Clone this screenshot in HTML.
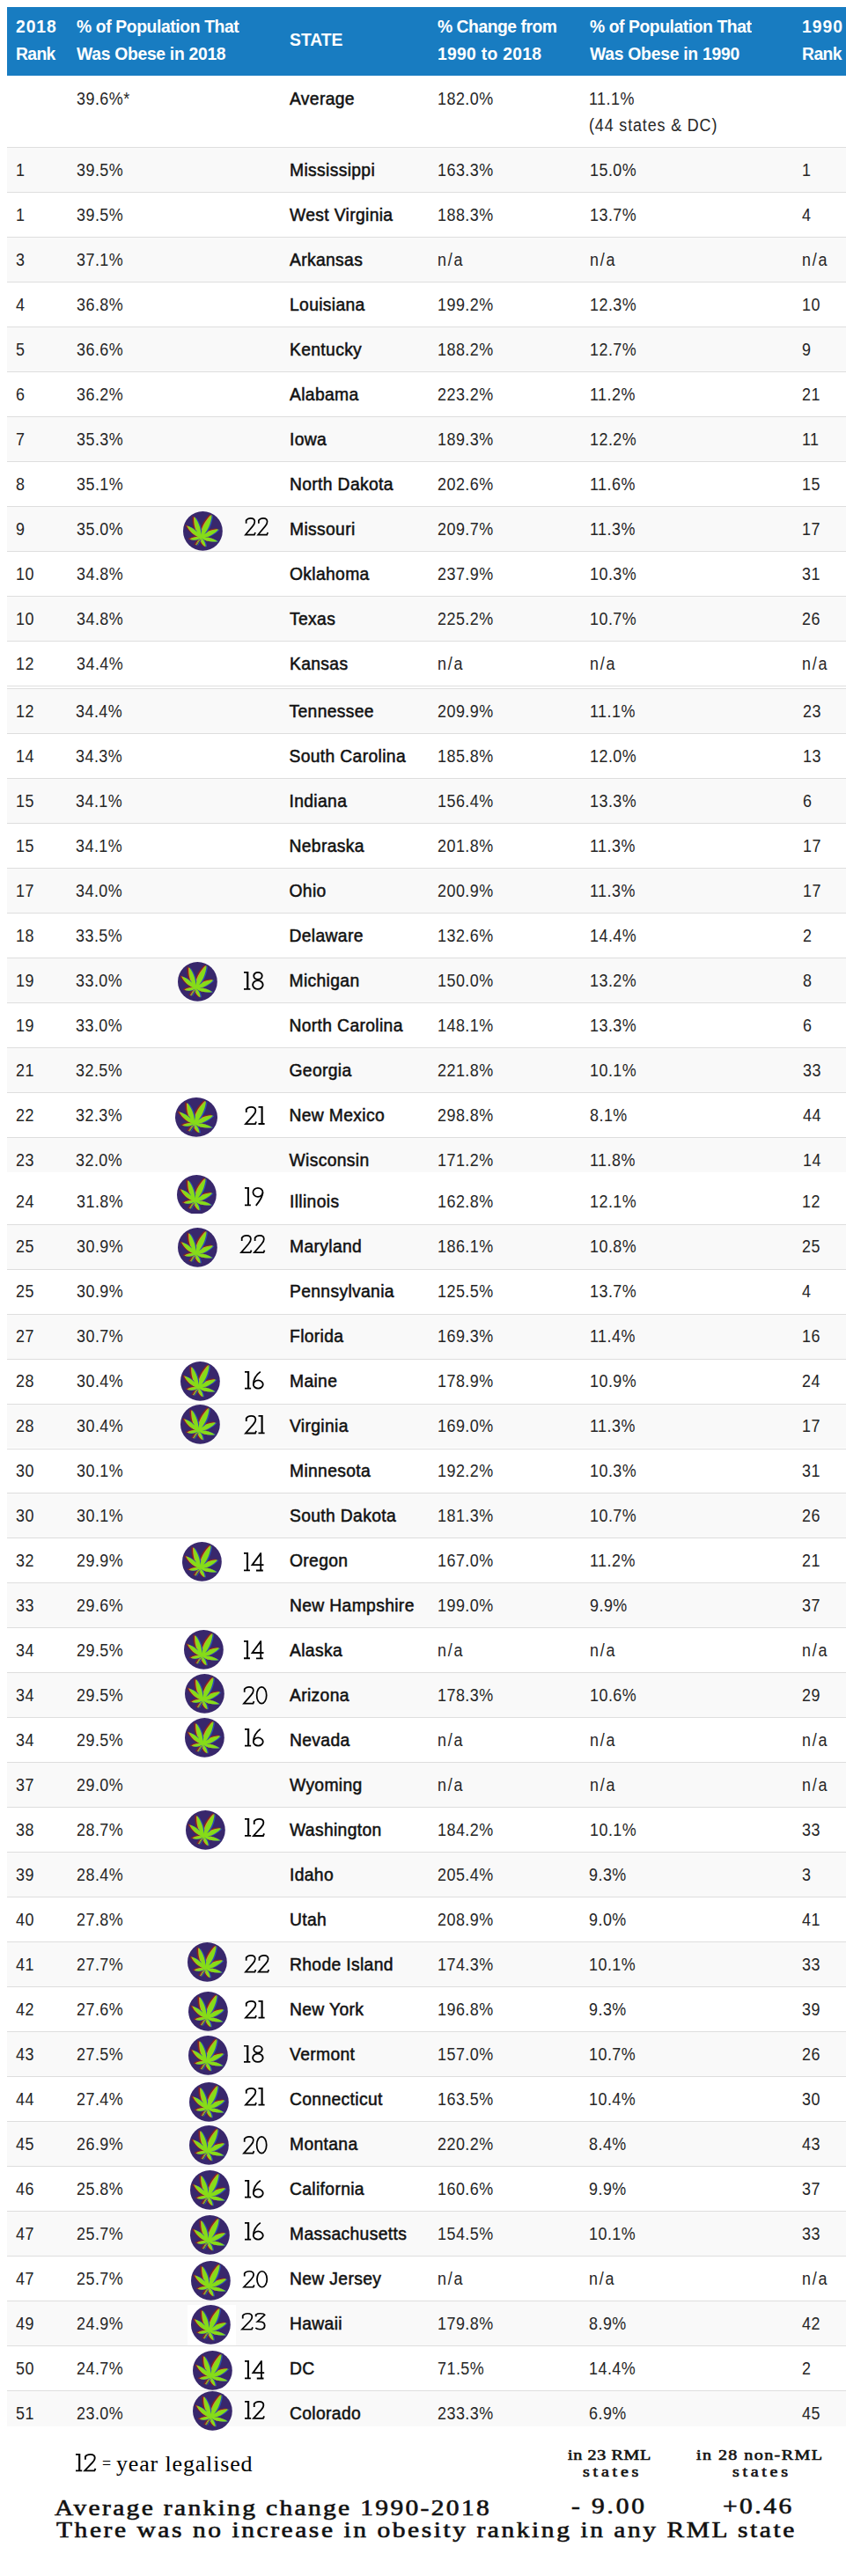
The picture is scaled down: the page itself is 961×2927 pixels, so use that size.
<!DOCTYPE html>
<html><head><meta charset="utf-8">
<style>
html,body{margin:0;padding:0;background:#fff;}
body{width:961px;height:2927px;position:relative;overflow:hidden;font-family:"Liberation Sans",sans-serif;}
.hd{position:absolute;left:8px;top:8px;width:953px;height:77.5px;background:#187cc1;}
.ht{position:absolute;color:#fff;font-weight:bold;font-size:21px;line-height:30.5px;white-space:nowrap;}
.r{position:absolute;left:8px;width:953px;box-sizing:border-box;}
.g{background:#f9f9f9;}
.w{background:#fff;}
.b{border-top:1px solid #dedede;}
.c{position:absolute;top:0;white-space:nowrap;font-size:19.3px;letter-spacing:0.5px;color:#262626;transform:scaleX(0.93);transform-origin:0 0;}
.s{color:#111;-webkit-text-stroke:0.5px #111;letter-spacing:0.35px;transform:none;}
.ic{position:absolute;width:45px;height:45px;}
.yr{position:absolute;font-family:"Liberation Serif",serif;font-size:31px;line-height:31px;transform-origin:0 0;color:#000;white-space:nowrap;}
.lg{position:absolute;font-family:"Liberation Serif",serif;color:#000;white-space:nowrap;}
.tw{position:absolute;font-family:"Liberation Serif",serif;font-weight:normal;-webkit-text-stroke:0.6px #111;color:#111;white-space:nowrap;transform-origin:0 0;}
</style></head><body>
<svg width="0" height="0" style="position:absolute">
<defs>
<path id="lf" d="M22.5 33.5C30.9 26.8 35.7 14.8 36.5 4.5C28.9 11.6 22.5 22.8 22.5 33.5ZM22.5 33.5C24.0 24.4 20.0 14.0 14.6 6.9C13.9 15.8 16.3 26.7 22.5 33.5ZM22.5 33.5C19.8 26.3 12.4 20.8 5.4 18.4C8.6 25.1 15.0 31.7 22.5 33.5ZM22.5 33.5C31.0 34.0 39.7 29.0 45.0 22.8C36.8 23.0 27.5 26.6 22.5 33.5ZM22.5 33.5C28.2 38.1 36.9 39.3 43.9 38.1C38.0 34.1 29.6 31.6 22.5 33.5ZM22.5 33.5C18.1 31.7 12.9 33.0 9.2 35.7C13.5 37.0 18.9 36.7 22.5 33.5ZM22.5 33.5C22.1 38.2 25.1 42.6 28.7 45.1C28.6 40.7 26.6 35.8 22.5 33.5ZM22.0 33.5L16.6 42.8L17.4 43.1L23.0 33.9Z"/>
<g id="ic">
<circle cx="25" cy="25" r="25" fill="#38276c"/>
<use href="#lf" fill="#862420" stroke="#862420" stroke-width="0.8" transform="translate(-2.4,-0.7)"/>
<use href="#lf" fill="#d0a030" transform="translate(-1.0,-0.3)"/>
<use href="#lf" fill="#2c4cb0" transform="translate(1.6,0.4)"/>
<use href="#lf" fill="#86dc18"/>
</g>
</defs>
</svg>

<div class="hd"></div>
<div class="ht" style="left:17.5px;top:15px;transform:scaleX(0.92);transform-origin:0 0"><span style="letter-spacing:1.0px">2018</span><br><span style="letter-spacing:-0.7px">Rank</span></div>
<div class="ht" style="left:87.0px;top:15px;transform:scaleX(0.92);transform-origin:0 0"><span style="letter-spacing:-0.42px">% of Population That</span><br><span style="letter-spacing:-0.32px">Was Obese in 2018</span></div>
<div class="ht" style="left:328.5px;top:30px;transform:scaleX(0.92);transform-origin:0 0"><span style="letter-spacing:0.0px">STATE</span></div>
<div class="ht" style="left:496.5px;top:15px;transform:scaleX(0.92);transform-origin:0 0"><span style="letter-spacing:-0.52px">% Change from</span><br><span style="letter-spacing:0.3px">1990 to 2018</span></div>
<div class="ht" style="left:669.5px;top:15px;transform:scaleX(0.92);transform-origin:0 0"><span style="letter-spacing:-0.47px">% of Population That</span><br><span style="letter-spacing:-0.28px">Was Obese in 1990</span></div>
<div class="ht" style="left:910.5px;top:15px;transform:scaleX(0.92);transform-origin:0 0"><span style="letter-spacing:1.09px">1990</span><br><span style="letter-spacing:-0.6px">Rank</span></div>
<div class="r w" style="top:85.5px;height:82px"></div>
<div class="c" style="left:87.0px;top:98px;line-height:30px">39.6%*</div>
<div class="c s" style="left:329.0px;top:98px;line-height:30px">Average</div>
<div class="c" style="left:497.0px;top:98px;line-height:30px">182.0%</div>
<div class="c" style="left:669.0px;top:98px;line-height:29.5px">11.1%<br><span style="letter-spacing:0.92px">(44 states &amp; DC)</span></div>
<div class="r g b" style="top:167.45px;height:50.93px">
<div class="c" style="left:10.0px;top:0.90px;line-height:50.95px">1</div>
<div class="c" style="left:79.0px;top:0.90px;line-height:50.95px">39.5%</div>
<div class="c s" style="left:321.0px;top:0.90px;line-height:50.95px">Mississippi</div>
<div class="c" style="left:489.0px;top:0.90px;line-height:50.95px">163.3%</div>
<div class="c" style="left:661.5px;top:0.90px;line-height:50.95px">15.0%</div>
<div class="c" style="left:902.5px;top:0.90px;line-height:50.95px">1</div>
</div>
<div class="r w b" style="top:218.38px;height:50.93px">
<div class="c" style="left:10.0px;top:0.90px;line-height:50.95px">1</div>
<div class="c" style="left:79.0px;top:0.90px;line-height:50.95px">39.5%</div>
<div class="c s" style="left:321.0px;top:0.90px;line-height:50.95px">West Virginia</div>
<div class="c" style="left:489.0px;top:0.90px;line-height:50.95px">188.3%</div>
<div class="c" style="left:661.5px;top:0.90px;line-height:50.95px">13.7%</div>
<div class="c" style="left:902.5px;top:0.90px;line-height:50.95px">4</div>
</div>
<div class="r g b" style="top:269.31px;height:50.93px">
<div class="c" style="left:10.0px;top:0.90px;line-height:50.95px">3</div>
<div class="c" style="left:79.0px;top:0.90px;line-height:50.95px">37.1%</div>
<div class="c s" style="left:321.0px;top:0.90px;line-height:50.95px">Arkansas</div>
<div class="c" style="left:489.0px;top:0.90px;line-height:50.95px"><span style="letter-spacing:1.9px">n/a</span></div>
<div class="c" style="left:661.5px;top:0.90px;line-height:50.95px"><span style="letter-spacing:1.9px">n/a</span></div>
<div class="c" style="left:902.5px;top:0.90px;line-height:50.95px"><span style="letter-spacing:1.9px">n/a</span></div>
</div>
<div class="r w b" style="top:320.24px;height:50.93px">
<div class="c" style="left:10.0px;top:0.90px;line-height:50.95px">4</div>
<div class="c" style="left:79.0px;top:0.90px;line-height:50.95px">36.8%</div>
<div class="c s" style="left:321.0px;top:0.90px;line-height:50.95px">Louisiana</div>
<div class="c" style="left:489.0px;top:0.90px;line-height:50.95px">199.2%</div>
<div class="c" style="left:661.5px;top:0.90px;line-height:50.95px">12.3%</div>
<div class="c" style="left:902.5px;top:0.90px;line-height:50.95px">10</div>
</div>
<div class="r g b" style="top:371.17px;height:50.93px">
<div class="c" style="left:10.0px;top:0.90px;line-height:50.95px">5</div>
<div class="c" style="left:79.0px;top:0.90px;line-height:50.95px">36.6%</div>
<div class="c s" style="left:321.0px;top:0.90px;line-height:50.95px">Kentucky</div>
<div class="c" style="left:489.0px;top:0.90px;line-height:50.95px">188.2%</div>
<div class="c" style="left:661.5px;top:0.90px;line-height:50.95px">12.7%</div>
<div class="c" style="left:902.5px;top:0.90px;line-height:50.95px">9</div>
</div>
<div class="r w b" style="top:422.10px;height:50.93px">
<div class="c" style="left:10.0px;top:0.90px;line-height:50.95px">6</div>
<div class="c" style="left:79.0px;top:0.90px;line-height:50.95px">36.2%</div>
<div class="c s" style="left:321.0px;top:0.90px;line-height:50.95px">Alabama</div>
<div class="c" style="left:489.0px;top:0.90px;line-height:50.95px">223.2%</div>
<div class="c" style="left:661.5px;top:0.90px;line-height:50.95px">11.2%</div>
<div class="c" style="left:902.5px;top:0.90px;line-height:50.95px">21</div>
</div>
<div class="r g b" style="top:473.03px;height:50.93px">
<div class="c" style="left:10.0px;top:0.90px;line-height:50.95px">7</div>
<div class="c" style="left:79.0px;top:0.90px;line-height:50.95px">35.3%</div>
<div class="c s" style="left:321.0px;top:0.90px;line-height:50.95px">Iowa</div>
<div class="c" style="left:489.0px;top:0.90px;line-height:50.95px">189.3%</div>
<div class="c" style="left:661.5px;top:0.90px;line-height:50.95px">12.2%</div>
<div class="c" style="left:902.5px;top:0.90px;line-height:50.95px">11</div>
</div>
<div class="r w b" style="top:523.96px;height:50.93px">
<div class="c" style="left:10.0px;top:0.90px;line-height:50.95px">8</div>
<div class="c" style="left:79.0px;top:0.90px;line-height:50.95px">35.1%</div>
<div class="c s" style="left:321.0px;top:0.90px;line-height:50.95px">North Dakota</div>
<div class="c" style="left:489.0px;top:0.90px;line-height:50.95px">202.6%</div>
<div class="c" style="left:661.5px;top:0.90px;line-height:50.95px">11.6%</div>
<div class="c" style="left:902.5px;top:0.90px;line-height:50.95px">15</div>
</div>
<div class="r g b" style="top:574.89px;height:50.93px">
<div class="c" style="left:10.0px;top:0.90px;line-height:50.95px">9</div>
<div class="c" style="left:79.0px;top:0.90px;line-height:50.95px">35.0%</div>
<div class="c s" style="left:321.0px;top:0.90px;line-height:50.95px">Missouri</div>
<div class="c" style="left:489.0px;top:0.90px;line-height:50.95px">209.7%</div>
<div class="c" style="left:661.5px;top:0.90px;line-height:50.95px">11.3%</div>
<div class="c" style="left:902.5px;top:0.90px;line-height:50.95px">17</div>
</div>
<div class="r w b" style="top:625.82px;height:50.93px">
<div class="c" style="left:10.0px;top:0.90px;line-height:50.95px">10</div>
<div class="c" style="left:79.0px;top:0.90px;line-height:50.95px">34.8%</div>
<div class="c s" style="left:321.0px;top:0.90px;line-height:50.95px">Oklahoma</div>
<div class="c" style="left:489.0px;top:0.90px;line-height:50.95px">237.9%</div>
<div class="c" style="left:661.5px;top:0.90px;line-height:50.95px">10.3%</div>
<div class="c" style="left:902.5px;top:0.90px;line-height:50.95px">31</div>
</div>
<div class="r g b" style="top:676.75px;height:50.93px">
<div class="c" style="left:10.0px;top:0.90px;line-height:50.95px">10</div>
<div class="c" style="left:79.0px;top:0.90px;line-height:50.95px">34.8%</div>
<div class="c s" style="left:321.0px;top:0.90px;line-height:50.95px">Texas</div>
<div class="c" style="left:489.0px;top:0.90px;line-height:50.95px">225.2%</div>
<div class="c" style="left:661.5px;top:0.90px;line-height:50.95px">10.7%</div>
<div class="c" style="left:902.5px;top:0.90px;line-height:50.95px">26</div>
</div>
<div class="r w b" style="top:727.68px;height:50.93px">
<div class="c" style="left:10.0px;top:0.90px;line-height:50.95px">12</div>
<div class="c" style="left:79.0px;top:0.90px;line-height:50.95px">34.4%</div>
<div class="c s" style="left:321.0px;top:0.90px;line-height:50.95px">Kansas</div>
<div class="c" style="left:489.0px;top:0.90px;line-height:50.95px"><span style="letter-spacing:1.9px">n/a</span></div>
<div class="c" style="left:661.5px;top:0.90px;line-height:50.95px"><span style="letter-spacing:1.9px">n/a</span></div>
<div class="c" style="left:902.5px;top:0.90px;line-height:50.95px"><span style="letter-spacing:1.9px">n/a</span></div>
</div>
<div class="r g b" style="top:782.40px;height:51.00px">
<div class="c" style="left:9.5px;top:0.90px;line-height:50.95px">12</div>
<div class="c" style="left:78.0px;top:0.90px;line-height:50.95px">34.4%</div>
<div class="c s" style="left:320.5px;top:0.90px;line-height:50.95px">Tennessee</div>
<div class="c" style="left:489.0px;top:0.90px;line-height:50.95px">209.9%</div>
<div class="c" style="left:661.8px;top:0.90px;line-height:50.95px">11.1%</div>
<div class="c" style="left:903.5px;top:0.90px;line-height:50.95px">23</div>
</div>
<div class="r w b" style="top:833.40px;height:51.00px">
<div class="c" style="left:9.5px;top:0.90px;line-height:50.95px">14</div>
<div class="c" style="left:78.0px;top:0.90px;line-height:50.95px">34.3%</div>
<div class="c s" style="left:320.5px;top:0.90px;line-height:50.95px">South Carolina</div>
<div class="c" style="left:489.0px;top:0.90px;line-height:50.95px">185.8%</div>
<div class="c" style="left:661.8px;top:0.90px;line-height:50.95px">12.0%</div>
<div class="c" style="left:903.5px;top:0.90px;line-height:50.95px">13</div>
</div>
<div class="r g b" style="top:884.40px;height:51.00px">
<div class="c" style="left:9.5px;top:0.90px;line-height:50.95px">15</div>
<div class="c" style="left:78.0px;top:0.90px;line-height:50.95px">34.1%</div>
<div class="c s" style="left:320.5px;top:0.90px;line-height:50.95px">Indiana</div>
<div class="c" style="left:489.0px;top:0.90px;line-height:50.95px">156.4%</div>
<div class="c" style="left:661.8px;top:0.90px;line-height:50.95px">13.3%</div>
<div class="c" style="left:903.5px;top:0.90px;line-height:50.95px">6</div>
</div>
<div class="r w b" style="top:935.40px;height:51.00px">
<div class="c" style="left:9.5px;top:0.90px;line-height:50.95px">15</div>
<div class="c" style="left:78.0px;top:0.90px;line-height:50.95px">34.1%</div>
<div class="c s" style="left:320.5px;top:0.90px;line-height:50.95px">Nebraska</div>
<div class="c" style="left:489.0px;top:0.90px;line-height:50.95px">201.8%</div>
<div class="c" style="left:661.8px;top:0.90px;line-height:50.95px">11.3%</div>
<div class="c" style="left:903.5px;top:0.90px;line-height:50.95px">17</div>
</div>
<div class="r g b" style="top:986.40px;height:51.00px">
<div class="c" style="left:9.5px;top:0.90px;line-height:50.95px">17</div>
<div class="c" style="left:78.0px;top:0.90px;line-height:50.95px">34.0%</div>
<div class="c s" style="left:320.5px;top:0.90px;line-height:50.95px">Ohio</div>
<div class="c" style="left:489.0px;top:0.90px;line-height:50.95px">200.9%</div>
<div class="c" style="left:661.8px;top:0.90px;line-height:50.95px">11.3%</div>
<div class="c" style="left:903.5px;top:0.90px;line-height:50.95px">17</div>
</div>
<div class="r w b" style="top:1037.40px;height:51.00px">
<div class="c" style="left:9.5px;top:0.90px;line-height:50.95px">18</div>
<div class="c" style="left:78.0px;top:0.90px;line-height:50.95px">33.5%</div>
<div class="c s" style="left:320.5px;top:0.90px;line-height:50.95px">Delaware</div>
<div class="c" style="left:489.0px;top:0.90px;line-height:50.95px">132.6%</div>
<div class="c" style="left:661.8px;top:0.90px;line-height:50.95px">14.4%</div>
<div class="c" style="left:903.5px;top:0.90px;line-height:50.95px">2</div>
</div>
<div class="r g b" style="top:1088.40px;height:51.00px">
<div class="c" style="left:9.5px;top:0.90px;line-height:50.95px">19</div>
<div class="c" style="left:78.0px;top:0.90px;line-height:50.95px">33.0%</div>
<div class="c s" style="left:320.5px;top:0.90px;line-height:50.95px">Michigan</div>
<div class="c" style="left:489.0px;top:0.90px;line-height:50.95px">150.0%</div>
<div class="c" style="left:661.8px;top:0.90px;line-height:50.95px">13.2%</div>
<div class="c" style="left:903.5px;top:0.90px;line-height:50.95px">8</div>
</div>
<div class="r w b" style="top:1139.40px;height:51.00px">
<div class="c" style="left:9.5px;top:0.90px;line-height:50.95px">19</div>
<div class="c" style="left:78.0px;top:0.90px;line-height:50.95px">33.0%</div>
<div class="c s" style="left:320.5px;top:0.90px;line-height:50.95px">North Carolina</div>
<div class="c" style="left:489.0px;top:0.90px;line-height:50.95px">148.1%</div>
<div class="c" style="left:661.8px;top:0.90px;line-height:50.95px">13.3%</div>
<div class="c" style="left:903.5px;top:0.90px;line-height:50.95px">6</div>
</div>
<div class="r g b" style="top:1190.40px;height:51.00px">
<div class="c" style="left:9.5px;top:0.90px;line-height:50.95px">21</div>
<div class="c" style="left:78.0px;top:0.90px;line-height:50.95px">32.5%</div>
<div class="c s" style="left:320.5px;top:0.90px;line-height:50.95px">Georgia</div>
<div class="c" style="left:489.0px;top:0.90px;line-height:50.95px">221.8%</div>
<div class="c" style="left:661.8px;top:0.90px;line-height:50.95px">10.1%</div>
<div class="c" style="left:903.5px;top:0.90px;line-height:50.95px">33</div>
</div>
<div class="r w b" style="top:1241.40px;height:51.00px">
<div class="c" style="left:9.5px;top:0.90px;line-height:50.95px">22</div>
<div class="c" style="left:78.0px;top:0.90px;line-height:50.95px">32.3%</div>
<div class="c s" style="left:320.5px;top:0.90px;line-height:50.95px">New Mexico</div>
<div class="c" style="left:489.0px;top:0.90px;line-height:50.95px">298.8%</div>
<div class="c" style="left:661.8px;top:0.90px;line-height:50.95px">8.1%</div>
<div class="c" style="left:903.5px;top:0.90px;line-height:50.95px">44</div>
</div>
<div class="r g b" style="top:1292.40px;height:39.60px">
<div class="c" style="left:9.5px;top:0.90px;line-height:50.95px">23</div>
<div class="c" style="left:78.0px;top:0.90px;line-height:50.95px">32.0%</div>
<div class="c s" style="left:320.5px;top:0.90px;line-height:50.95px">Wisconsin</div>
<div class="c" style="left:489.0px;top:0.90px;line-height:50.95px">171.2%</div>
<div class="c" style="left:661.8px;top:0.90px;line-height:50.95px">11.8%</div>
<div class="c" style="left:903.5px;top:0.90px;line-height:50.95px">14</div>
</div>
<div class="r w" style="top:1332.00px;height:58.60px">
<div class="c" style="left:10.0px;top:9.15px;line-height:50.95px">24</div>
<div class="c" style="left:79.0px;top:9.15px;line-height:50.95px">31.8%</div>
<div class="c s" style="left:321.0px;top:9.15px;line-height:50.95px">Illinois</div>
<div class="c" style="left:489.0px;top:9.15px;line-height:50.95px">162.8%</div>
<div class="c" style="left:661.8px;top:9.15px;line-height:50.95px">12.1%</div>
<div class="c" style="left:902.5px;top:9.15px;line-height:50.95px">12</div>
</div>
<div class="r g b" style="top:1390.60px;height:50.98px">
<div class="c" style="left:10.0px;top:0.90px;line-height:50.95px">25</div>
<div class="c" style="left:79.0px;top:0.90px;line-height:50.95px">30.9%</div>
<div class="c s" style="left:321.0px;top:0.90px;line-height:50.95px">Maryland</div>
<div class="c" style="left:489.0px;top:0.90px;line-height:50.95px">186.1%</div>
<div class="c" style="left:661.8px;top:0.90px;line-height:50.95px">10.8%</div>
<div class="c" style="left:902.5px;top:0.90px;line-height:50.95px">25</div>
</div>
<div class="r w b" style="top:1441.58px;height:50.98px">
<div class="c" style="left:10.0px;top:0.90px;line-height:50.95px">25</div>
<div class="c" style="left:79.0px;top:0.90px;line-height:50.95px">30.9%</div>
<div class="c s" style="left:321.0px;top:0.90px;line-height:50.95px">Pennsylvania</div>
<div class="c" style="left:489.0px;top:0.90px;line-height:50.95px">125.5%</div>
<div class="c" style="left:661.8px;top:0.90px;line-height:50.95px">13.7%</div>
<div class="c" style="left:902.5px;top:0.90px;line-height:50.95px">4</div>
</div>
<div class="r g b" style="top:1492.56px;height:50.98px">
<div class="c" style="left:10.0px;top:0.90px;line-height:50.95px">27</div>
<div class="c" style="left:79.0px;top:0.90px;line-height:50.95px">30.7%</div>
<div class="c s" style="left:321.0px;top:0.90px;line-height:50.95px">Florida</div>
<div class="c" style="left:489.0px;top:0.90px;line-height:50.95px">169.3%</div>
<div class="c" style="left:661.8px;top:0.90px;line-height:50.95px">11.4%</div>
<div class="c" style="left:902.5px;top:0.90px;line-height:50.95px">16</div>
</div>
<div class="r w b" style="top:1543.54px;height:50.98px">
<div class="c" style="left:10.0px;top:0.90px;line-height:50.95px">28</div>
<div class="c" style="left:79.0px;top:0.90px;line-height:50.95px">30.4%</div>
<div class="c s" style="left:321.0px;top:0.90px;line-height:50.95px">Maine</div>
<div class="c" style="left:489.0px;top:0.90px;line-height:50.95px">178.9%</div>
<div class="c" style="left:661.8px;top:0.90px;line-height:50.95px">10.9%</div>
<div class="c" style="left:902.5px;top:0.90px;line-height:50.95px">24</div>
</div>
<div class="r g b" style="top:1594.52px;height:50.98px">
<div class="c" style="left:10.0px;top:0.90px;line-height:50.95px">28</div>
<div class="c" style="left:79.0px;top:0.90px;line-height:50.95px">30.4%</div>
<div class="c s" style="left:321.0px;top:0.90px;line-height:50.95px">Virginia</div>
<div class="c" style="left:489.0px;top:0.90px;line-height:50.95px">169.0%</div>
<div class="c" style="left:661.8px;top:0.90px;line-height:50.95px">11.3%</div>
<div class="c" style="left:902.5px;top:0.90px;line-height:50.95px">17</div>
</div>
<div class="r w b" style="top:1645.50px;height:50.98px">
<div class="c" style="left:10.0px;top:0.90px;line-height:50.95px">30</div>
<div class="c" style="left:79.0px;top:0.90px;line-height:50.95px">30.1%</div>
<div class="c s" style="left:321.0px;top:0.90px;line-height:50.95px">Minnesota</div>
<div class="c" style="left:489.0px;top:0.90px;line-height:50.95px">192.2%</div>
<div class="c" style="left:661.8px;top:0.90px;line-height:50.95px">10.3%</div>
<div class="c" style="left:902.5px;top:0.90px;line-height:50.95px">31</div>
</div>
<div class="r g b" style="top:1696.48px;height:50.98px">
<div class="c" style="left:10.0px;top:0.90px;line-height:50.95px">30</div>
<div class="c" style="left:79.0px;top:0.90px;line-height:50.95px">30.1%</div>
<div class="c s" style="left:321.0px;top:0.90px;line-height:50.95px">South Dakota</div>
<div class="c" style="left:489.0px;top:0.90px;line-height:50.95px">181.3%</div>
<div class="c" style="left:661.8px;top:0.90px;line-height:50.95px">10.7%</div>
<div class="c" style="left:902.5px;top:0.90px;line-height:50.95px">26</div>
</div>
<div class="r w b" style="top:1747.46px;height:50.98px">
<div class="c" style="left:10.0px;top:0.90px;line-height:50.95px">32</div>
<div class="c" style="left:79.0px;top:0.90px;line-height:50.95px">29.9%</div>
<div class="c s" style="left:321.0px;top:0.90px;line-height:50.95px">Oregon</div>
<div class="c" style="left:489.0px;top:0.90px;line-height:50.95px">167.0%</div>
<div class="c" style="left:661.8px;top:0.90px;line-height:50.95px">11.2%</div>
<div class="c" style="left:902.5px;top:0.90px;line-height:50.95px">21</div>
</div>
<div class="r g b" style="top:1798.44px;height:50.98px">
<div class="c" style="left:10.0px;top:0.90px;line-height:50.95px">33</div>
<div class="c" style="left:79.0px;top:0.90px;line-height:50.95px">29.6%</div>
<div class="c s" style="left:321.0px;top:0.90px;line-height:50.95px">New Hampshire</div>
<div class="c" style="left:489.0px;top:0.90px;line-height:50.95px">199.0%</div>
<div class="c" style="left:661.8px;top:0.90px;line-height:50.95px">9.9%</div>
<div class="c" style="left:902.5px;top:0.90px;line-height:50.95px">37</div>
</div>
<div class="r w b" style="top:1849.42px;height:50.98px">
<div class="c" style="left:10.0px;top:0.90px;line-height:50.95px">34</div>
<div class="c" style="left:79.0px;top:0.90px;line-height:50.95px">29.5%</div>
<div class="c s" style="left:321.0px;top:0.90px;line-height:50.95px">Alaska</div>
<div class="c" style="left:489.0px;top:0.90px;line-height:50.95px"><span style="letter-spacing:1.9px">n/a</span></div>
<div class="c" style="left:661.8px;top:0.90px;line-height:50.95px"><span style="letter-spacing:1.9px">n/a</span></div>
<div class="c" style="left:902.5px;top:0.90px;line-height:50.95px"><span style="letter-spacing:1.9px">n/a</span></div>
</div>
<div class="r g b" style="top:1900.40px;height:50.98px">
<div class="c" style="left:10.0px;top:0.90px;line-height:50.95px">34</div>
<div class="c" style="left:79.0px;top:0.90px;line-height:50.95px">29.5%</div>
<div class="c s" style="left:321.0px;top:0.90px;line-height:50.95px">Arizona</div>
<div class="c" style="left:489.0px;top:0.90px;line-height:50.95px">178.3%</div>
<div class="c" style="left:661.8px;top:0.90px;line-height:50.95px">10.6%</div>
<div class="c" style="left:902.5px;top:0.90px;line-height:50.95px">29</div>
</div>
<div class="r w b" style="top:1951.38px;height:50.98px">
<div class="c" style="left:10.0px;top:0.90px;line-height:50.95px">34</div>
<div class="c" style="left:79.0px;top:0.90px;line-height:50.95px">29.5%</div>
<div class="c s" style="left:321.0px;top:0.90px;line-height:50.95px">Nevada</div>
<div class="c" style="left:489.0px;top:0.90px;line-height:50.95px"><span style="letter-spacing:1.9px">n/a</span></div>
<div class="c" style="left:661.8px;top:0.90px;line-height:50.95px"><span style="letter-spacing:1.9px">n/a</span></div>
<div class="c" style="left:902.5px;top:0.90px;line-height:50.95px"><span style="letter-spacing:1.9px">n/a</span></div>
</div>
<div class="r g b" style="top:2002.36px;height:50.98px">
<div class="c" style="left:10.0px;top:0.90px;line-height:50.95px">37</div>
<div class="c" style="left:79.0px;top:0.90px;line-height:50.95px">29.0%</div>
<div class="c s" style="left:321.0px;top:0.90px;line-height:50.95px">Wyoming</div>
<div class="c" style="left:489.0px;top:0.90px;line-height:50.95px"><span style="letter-spacing:1.9px">n/a</span></div>
<div class="c" style="left:661.8px;top:0.90px;line-height:50.95px"><span style="letter-spacing:1.9px">n/a</span></div>
<div class="c" style="left:902.5px;top:0.90px;line-height:50.95px"><span style="letter-spacing:1.9px">n/a</span></div>
</div>
<div class="r w b" style="top:2053.34px;height:50.98px">
<div class="c" style="left:10.0px;top:0.90px;line-height:50.95px">38</div>
<div class="c" style="left:79.0px;top:0.90px;line-height:50.95px">28.7%</div>
<div class="c s" style="left:321.0px;top:0.90px;line-height:50.95px">Washington</div>
<div class="c" style="left:489.0px;top:0.90px;line-height:50.95px">184.2%</div>
<div class="c" style="left:661.8px;top:0.90px;line-height:50.95px">10.1%</div>
<div class="c" style="left:902.5px;top:0.90px;line-height:50.95px">33</div>
</div>
<div class="r g b" style="top:2104.32px;height:50.98px">
<div class="c" style="left:10.0px;top:0.90px;line-height:50.95px">39</div>
<div class="c" style="left:79.3px;top:0.90px;line-height:50.95px">28.4%</div>
<div class="c s" style="left:321.0px;top:0.90px;line-height:50.95px">Idaho</div>
<div class="c" style="left:489.0px;top:0.90px;line-height:50.95px">205.4%</div>
<div class="c" style="left:661.3px;top:0.90px;line-height:50.95px">9.3%</div>
<div class="c" style="left:902.8px;top:0.90px;line-height:50.95px">3</div>
</div>
<div class="r w b" style="top:2155.30px;height:50.98px">
<div class="c" style="left:10.0px;top:0.90px;line-height:50.95px">40</div>
<div class="c" style="left:79.3px;top:0.90px;line-height:50.95px">27.8%</div>
<div class="c s" style="left:321.0px;top:0.90px;line-height:50.95px">Utah</div>
<div class="c" style="left:489.0px;top:0.90px;line-height:50.95px">208.9%</div>
<div class="c" style="left:661.3px;top:0.90px;line-height:50.95px">9.0%</div>
<div class="c" style="left:902.8px;top:0.90px;line-height:50.95px">41</div>
</div>
<div class="r g b" style="top:2206.28px;height:50.98px">
<div class="c" style="left:10.0px;top:0.90px;line-height:50.95px">41</div>
<div class="c" style="left:79.3px;top:0.90px;line-height:50.95px">27.7%</div>
<div class="c s" style="left:321.0px;top:0.90px;line-height:50.95px">Rhode Island</div>
<div class="c" style="left:489.0px;top:0.90px;line-height:50.95px">174.3%</div>
<div class="c" style="left:661.3px;top:0.90px;line-height:50.95px">10.1%</div>
<div class="c" style="left:902.8px;top:0.90px;line-height:50.95px">33</div>
</div>
<div class="r w b" style="top:2257.26px;height:50.98px">
<div class="c" style="left:10.0px;top:0.90px;line-height:50.95px">42</div>
<div class="c" style="left:79.3px;top:0.90px;line-height:50.95px">27.6%</div>
<div class="c s" style="left:321.0px;top:0.90px;line-height:50.95px">New York</div>
<div class="c" style="left:489.0px;top:0.90px;line-height:50.95px">196.8%</div>
<div class="c" style="left:661.3px;top:0.90px;line-height:50.95px">9.3%</div>
<div class="c" style="left:902.8px;top:0.90px;line-height:50.95px">39</div>
</div>
<div class="r g b" style="top:2308.24px;height:50.98px">
<div class="c" style="left:10.0px;top:0.90px;line-height:50.95px">43</div>
<div class="c" style="left:79.3px;top:0.90px;line-height:50.95px">27.5%</div>
<div class="c s" style="left:321.0px;top:0.90px;line-height:50.95px">Vermont</div>
<div class="c" style="left:489.0px;top:0.90px;line-height:50.95px">157.0%</div>
<div class="c" style="left:661.3px;top:0.90px;line-height:50.95px">10.7%</div>
<div class="c" style="left:902.8px;top:0.90px;line-height:50.95px">26</div>
</div>
<div class="r w b" style="top:2359.22px;height:50.98px">
<div class="c" style="left:10.0px;top:0.90px;line-height:50.95px">44</div>
<div class="c" style="left:79.3px;top:0.90px;line-height:50.95px">27.4%</div>
<div class="c s" style="left:321.0px;top:0.90px;line-height:50.95px">Connecticut</div>
<div class="c" style="left:489.0px;top:0.90px;line-height:50.95px">163.5%</div>
<div class="c" style="left:661.3px;top:0.90px;line-height:50.95px">10.4%</div>
<div class="c" style="left:902.8px;top:0.90px;line-height:50.95px">30</div>
</div>
<div class="r g b" style="top:2410.20px;height:50.98px">
<div class="c" style="left:10.0px;top:0.90px;line-height:50.95px">45</div>
<div class="c" style="left:79.3px;top:0.90px;line-height:50.95px">26.9%</div>
<div class="c s" style="left:321.0px;top:0.90px;line-height:50.95px">Montana</div>
<div class="c" style="left:489.0px;top:0.90px;line-height:50.95px">220.2%</div>
<div class="c" style="left:661.3px;top:0.90px;line-height:50.95px">8.4%</div>
<div class="c" style="left:902.8px;top:0.90px;line-height:50.95px">43</div>
</div>
<div class="r w b" style="top:2461.18px;height:50.98px">
<div class="c" style="left:10.0px;top:0.90px;line-height:50.95px">46</div>
<div class="c" style="left:79.3px;top:0.90px;line-height:50.95px">25.8%</div>
<div class="c s" style="left:321.0px;top:0.90px;line-height:50.95px">California</div>
<div class="c" style="left:489.0px;top:0.90px;line-height:50.95px">160.6%</div>
<div class="c" style="left:661.3px;top:0.90px;line-height:50.95px">9.9%</div>
<div class="c" style="left:902.8px;top:0.90px;line-height:50.95px">37</div>
</div>
<div class="r g b" style="top:2512.16px;height:50.98px">
<div class="c" style="left:10.0px;top:0.90px;line-height:50.95px">47</div>
<div class="c" style="left:79.3px;top:0.90px;line-height:50.95px">25.7%</div>
<div class="c s" style="left:321.0px;top:0.90px;line-height:50.95px">Massachusetts</div>
<div class="c" style="left:489.0px;top:0.90px;line-height:50.95px">154.5%</div>
<div class="c" style="left:661.3px;top:0.90px;line-height:50.95px">10.1%</div>
<div class="c" style="left:902.8px;top:0.90px;line-height:50.95px">33</div>
</div>
<div class="r w b" style="top:2563.14px;height:50.98px">
<div class="c" style="left:10.0px;top:0.90px;line-height:50.95px">47</div>
<div class="c" style="left:79.3px;top:0.90px;line-height:50.95px">25.7%</div>
<div class="c s" style="left:321.0px;top:0.90px;line-height:50.95px">New Jersey</div>
<div class="c" style="left:489.0px;top:0.90px;line-height:50.95px"><span style="letter-spacing:1.9px">n/a</span></div>
<div class="c" style="left:661.3px;top:0.90px;line-height:50.95px"><span style="letter-spacing:1.9px">n/a</span></div>
<div class="c" style="left:902.8px;top:0.90px;line-height:50.95px"><span style="letter-spacing:1.9px">n/a</span></div>
</div>
<div class="r g b" style="top:2614.12px;height:50.98px">
<div class="c" style="left:10.0px;top:0.90px;line-height:50.95px">49</div>
<div class="c" style="left:79.3px;top:0.90px;line-height:50.95px">24.9%</div>
<div class="c s" style="left:321.0px;top:0.90px;line-height:50.95px">Hawaii</div>
<div class="c" style="left:489.0px;top:0.90px;line-height:50.95px">179.8%</div>
<div class="c" style="left:661.3px;top:0.90px;line-height:50.95px">8.9%</div>
<div class="c" style="left:902.8px;top:0.90px;line-height:50.95px">42</div>
</div>
<div class="r w b" style="top:2665.10px;height:50.98px">
<div class="c" style="left:10.0px;top:0.90px;line-height:50.95px">50</div>
<div class="c" style="left:79.3px;top:0.90px;line-height:50.95px">24.7%</div>
<div class="c s" style="left:321.0px;top:0.90px;line-height:50.95px">DC</div>
<div class="c" style="left:489.0px;top:0.90px;line-height:50.95px">71.5%</div>
<div class="c" style="left:661.3px;top:0.90px;line-height:50.95px">14.4%</div>
<div class="c" style="left:902.8px;top:0.90px;line-height:50.95px">2</div>
</div>
<div class="r g b" style="top:2716.08px;height:40.92px">
<div class="c" style="left:10.0px;top:0.90px;line-height:50.95px">51</div>
<div class="c" style="left:79.3px;top:0.90px;line-height:50.95px">23.0%</div>
<div class="c s" style="left:321.0px;top:0.90px;line-height:50.95px">Colorado</div>
<div class="c" style="left:489.0px;top:0.90px;line-height:50.95px">233.3%</div>
<div class="c" style="left:661.3px;top:0.90px;line-height:50.95px">6.9%</div>
<div class="c" style="left:902.8px;top:0.90px;line-height:50.95px">45</div>
</div>
<div style="position:absolute;left:8px;top:778.6px;width:953px;height:1px;background:#dedede"></div>
<div style="position:absolute;left:212.8px;top:2618.5px;width:55px;height:46px;background:#fff"></div>
<svg class="ic" style="left:208.00px;top:580.80px;width:44.8px;height:44.8px" viewBox="0 0 50 50" preserveAspectRatio="none"><use href="#ic"/></svg>
<svg style="position:absolute;left:278.40px;top:588.40px;overflow:visible" width="26.80" height="20.30" viewBox="0 0 28.80 21" preserveAspectRatio="none"><g transform="translate(0.00,0)"><path d="M1.75 7.0L1.75 3.4Q3.5 0.8 7.2 0.8Q12.2 0.8 12.2 5.0Q12.2 7.5 9.5 10.5L1.0 20.2L11.8 20.2L12.9 17.6" fill="none" stroke="#000" stroke-width="1.8"/></g><g transform="translate(15.30,0)"><path d="M1.75 7.0L1.75 3.4Q3.5 0.8 7.2 0.8Q12.2 0.8 12.2 5.0Q12.2 7.5 9.5 10.5L1.0 20.2L11.8 20.2L12.9 17.6" fill="none" stroke="#000" stroke-width="1.8"/></g></svg>
<svg class="ic" style="left:202.20px;top:1093.10px;width:44.8px;height:44.8px" viewBox="0 0 50 50" preserveAspectRatio="none"><use href="#ic"/></svg>
<svg style="position:absolute;left:277.20px;top:1103.90px;overflow:visible" width="22.50" height="20.80" viewBox="0 0 21.40 21" preserveAspectRatio="none"><g transform="translate(0.00,0)"><path d="M0 0H5.1V21H3.0V1.7H0Z M0 19.2H7H7V21H0Z" fill="#000"/></g><g transform="translate(8.80,0)"><ellipse cx="6.4" cy="4.9" rx="4.5" ry="4.1" fill="none" stroke="#000" stroke-width="1.8"/><ellipse cx="6.3" cy="15.15" rx="5.5" ry="4.95" fill="none" stroke="#000" stroke-width="1.8"/></g></svg>
<svg class="ic" style="left:199.10px;top:1247.00px;width:48.0px;height:44.8px" viewBox="0 0 50 50" preserveAspectRatio="none"><use href="#ic"/></svg>
<svg style="position:absolute;left:278.00px;top:1257.30px;overflow:visible" width="22.60" height="20.90" viewBox="0 0 22.30 21" preserveAspectRatio="none"><g transform="translate(0.00,0)"><path d="M1.75 7.0L1.75 3.4Q3.5 0.8 7.2 0.8Q12.2 0.8 12.2 5.0Q12.2 7.5 9.5 10.5L1.0 20.2L11.8 20.2L12.9 17.6" fill="none" stroke="#000" stroke-width="1.8"/></g><g transform="translate(15.30,0)"><path d="M0 0H5.1V21H3.0V1.7H0Z M0 19.2H7H7V21H0Z" fill="#000"/></g></svg>
<svg class="ic" style="left:201.10px;top:1334.60px;width:44.8px;height:44.8px" viewBox="0 0 50 50" preserveAspectRatio="none"><use href="#ic"/></svg>
<svg style="position:absolute;left:277.50px;top:1348.60px;overflow:visible" width="21.30" height="21.30" viewBox="0 0 21.70 21" preserveAspectRatio="none"><g transform="translate(0.00,0)"><path d="M0 0H5.1V21H3.0V1.7H0Z M0 19.2H7H7V21H0Z" fill="#000"/></g><g transform="translate(8.80,0)"><ellipse cx="6.45" cy="5.75" rx="5.65" ry="4.95" fill="none" stroke="#000" stroke-width="1.8"/><path d="M12.1 6.0Q11.8 11.5 4.2 20.6" fill="none" stroke="#000" stroke-width="1.8"/></g></svg>
<svg class="ic" style="left:202.20px;top:1395.10px;width:44.8px;height:44.8px" viewBox="0 0 50 50" preserveAspectRatio="none"><use href="#ic"/></svg>
<svg style="position:absolute;left:273.00px;top:1403.00px;overflow:visible" width="28.10" height="21.00" viewBox="0 0 28.80 21" preserveAspectRatio="none"><g transform="translate(0.00,0)"><path d="M1.75 7.0L1.75 3.4Q3.5 0.8 7.2 0.8Q12.2 0.8 12.2 5.0Q12.2 7.5 9.5 10.5L1.0 20.2L11.8 20.2L12.9 17.6" fill="none" stroke="#000" stroke-width="1.8"/></g><g transform="translate(15.30,0)"><path d="M1.75 7.0L1.75 3.4Q3.5 0.8 7.2 0.8Q12.2 0.8 12.2 5.0Q12.2 7.5 9.5 10.5L1.0 20.2L11.8 20.2L12.9 17.6" fill="none" stroke="#000" stroke-width="1.8"/></g></svg>
<svg class="ic" style="left:205.10px;top:1547.10px;width:44.8px;height:44.8px" viewBox="0 0 50 50" preserveAspectRatio="none"><use href="#ic"/></svg>
<svg style="position:absolute;left:277.50px;top:1557.80px;overflow:visible" width="22.20" height="20.40" viewBox="0 0 21.80 21" preserveAspectRatio="none"><g transform="translate(0.00,0)"><path d="M0 0H5.1V21H3.0V1.7H0Z M0 19.2H7H7V21H0Z" fill="#000"/></g><g transform="translate(8.80,0)"><ellipse cx="6.2" cy="15.5" rx="5.4" ry="4.7" fill="none" stroke="#000" stroke-width="1.8"/><path d="M0.9 15.5Q0.9 6.5 8.7 0.6" fill="none" stroke="#000" stroke-width="1.8"/></g></svg>
<svg class="ic" style="left:205.10px;top:1596.10px;width:44.8px;height:44.8px" viewBox="0 0 50 50" preserveAspectRatio="none"><use href="#ic"/></svg>
<svg style="position:absolute;left:278.00px;top:1607.80px;overflow:visible" width="22.60" height="21.30" viewBox="0 0 22.30 21" preserveAspectRatio="none"><g transform="translate(0.00,0)"><path d="M1.75 7.0L1.75 3.4Q3.5 0.8 7.2 0.8Q12.2 0.8 12.2 5.0Q12.2 7.5 9.5 10.5L1.0 20.2L11.8 20.2L12.9 17.6" fill="none" stroke="#000" stroke-width="1.8"/></g><g transform="translate(15.30,0)"><path d="M0 0H5.1V21H3.0V1.7H0Z M0 19.2H7H7V21H0Z" fill="#000"/></g></svg>
<svg class="ic" style="left:207.00px;top:1751.90px;width:44.8px;height:44.8px" viewBox="0 0 50 50" preserveAspectRatio="none"><use href="#ic"/></svg>
<svg style="position:absolute;left:277.20px;top:1763.70px;overflow:visible" width="22.50" height="21.30" viewBox="0 0 22.70 21" preserveAspectRatio="none"><g transform="translate(0.00,0)"><path d="M0 0H5.1V21H3.0V1.7H0Z M0 19.2H7H7V21H0Z" fill="#000"/></g><g transform="translate(8.80,0)"><path d="M10.8 0.6L0.8 13.9L13.9 13.9M10.6 0.3L10.6 21M5.3 20.2L13.2 20.2" fill="none" stroke="#000" stroke-width="1.8"/></g></svg>
<svg class="ic" style="left:209.10px;top:1851.90px;width:44.8px;height:44.8px" viewBox="0 0 50 50" preserveAspectRatio="none"><use href="#ic"/></svg>
<svg style="position:absolute;left:277.20px;top:1863.90px;overflow:visible" width="22.50" height="21.20" viewBox="0 0 22.70 21" preserveAspectRatio="none"><g transform="translate(0.00,0)"><path d="M0 0H5.1V21H3.0V1.7H0Z M0 19.2H7H7V21H0Z" fill="#000"/></g><g transform="translate(8.80,0)"><path d="M10.8 0.6L0.8 13.9L13.9 13.9M10.6 0.3L10.6 21M5.3 20.2L13.2 20.2" fill="none" stroke="#000" stroke-width="1.8"/></g></svg>
<svg class="ic" style="left:210.10px;top:1901.90px;width:44.8px;height:44.8px" viewBox="0 0 50 50" preserveAspectRatio="none"><use href="#ic"/></svg>
<svg style="position:absolute;left:276.30px;top:1916.20px;overflow:visible" width="27.50" height="20.40" viewBox="0 0 28.30 21" preserveAspectRatio="none"><g transform="translate(0.00,0)"><path d="M1.75 7.0L1.75 3.4Q3.5 0.8 7.2 0.8Q12.2 0.8 12.2 5.0Q12.2 7.5 9.5 10.5L1.0 20.2L11.8 20.2L12.9 17.6" fill="none" stroke="#000" stroke-width="1.8"/></g><g transform="translate(15.30,0)"><ellipse cx="6.5" cy="10.5" rx="5.7" ry="9.7" fill="none" stroke="#000" stroke-width="1.8"/></g></svg>
<svg class="ic" style="left:210.10px;top:1952.00px;width:44.8px;height:44.8px" viewBox="0 0 50 50" preserveAspectRatio="none"><use href="#ic"/></svg>
<svg style="position:absolute;left:277.50px;top:1964.00px;overflow:visible" width="22.20" height="20.40" viewBox="0 0 21.80 21" preserveAspectRatio="none"><g transform="translate(0.00,0)"><path d="M0 0H5.1V21H3.0V1.7H0Z M0 19.2H7H7V21H0Z" fill="#000"/></g><g transform="translate(8.80,0)"><ellipse cx="6.2" cy="15.5" rx="5.4" ry="4.7" fill="none" stroke="#000" stroke-width="1.8"/><path d="M0.9 15.5Q0.9 6.5 8.7 0.6" fill="none" stroke="#000" stroke-width="1.8"/></g></svg>
<svg class="ic" style="left:211.00px;top:2057.00px;width:44.8px;height:44.8px" viewBox="0 0 50 50" preserveAspectRatio="none"><use href="#ic"/></svg>
<svg style="position:absolute;left:277.50px;top:2066.30px;overflow:visible" width="22.70" height="20.80" viewBox="0 0 22.30 21" preserveAspectRatio="none"><g transform="translate(0.00,0)"><path d="M0 0H5.1V21H3.0V1.7H0Z M0 19.2H7H7V21H0Z" fill="#000"/></g><g transform="translate(8.80,0)"><path d="M1.75 7.0L1.75 3.4Q3.5 0.8 7.2 0.8Q12.2 0.8 12.2 5.0Q12.2 7.5 9.5 10.5L1.0 20.2L11.8 20.2L12.9 17.6" fill="none" stroke="#000" stroke-width="1.8"/></g></svg>
<svg class="ic" style="left:213.20px;top:2206.90px;width:44.8px;height:44.8px" viewBox="0 0 50 50" preserveAspectRatio="none"><use href="#ic"/></svg>
<svg style="position:absolute;left:278.00px;top:2220.60px;overflow:visible" width="27.90" height="20.40" viewBox="0 0 28.80 21" preserveAspectRatio="none"><g transform="translate(0.00,0)"><path d="M1.75 7.0L1.75 3.4Q3.5 0.8 7.2 0.8Q12.2 0.8 12.2 5.0Q12.2 7.5 9.5 10.5L1.0 20.2L11.8 20.2L12.9 17.6" fill="none" stroke="#000" stroke-width="1.8"/></g><g transform="translate(15.30,0)"><path d="M1.75 7.0L1.75 3.4Q3.5 0.8 7.2 0.8Q12.2 0.8 12.2 5.0Q12.2 7.5 9.5 10.5L1.0 20.2L11.8 20.2L12.9 17.6" fill="none" stroke="#000" stroke-width="1.8"/></g></svg>
<svg class="ic" style="left:214.20px;top:2263.00px;width:44.8px;height:44.8px" viewBox="0 0 50 50" preserveAspectRatio="none"><use href="#ic"/></svg>
<svg style="position:absolute;left:278.00px;top:2272.90px;overflow:visible" width="22.60" height="20.40" viewBox="0 0 22.30 21" preserveAspectRatio="none"><g transform="translate(0.00,0)"><path d="M1.75 7.0L1.75 3.4Q3.5 0.8 7.2 0.8Q12.2 0.8 12.2 5.0Q12.2 7.5 9.5 10.5L1.0 20.2L11.8 20.2L12.9 17.6" fill="none" stroke="#000" stroke-width="1.8"/></g><g transform="translate(15.30,0)"><path d="M0 0H5.1V21H3.0V1.7H0Z M0 19.2H7H7V21H0Z" fill="#000"/></g></svg>
<svg class="ic" style="left:214.10px;top:2313.10px;width:44.8px;height:44.8px" viewBox="0 0 50 50" preserveAspectRatio="none"><use href="#ic"/></svg>
<svg style="position:absolute;left:277.20px;top:2323.60px;overflow:visible" width="22.50" height="19.80" viewBox="0 0 21.40 21" preserveAspectRatio="none"><g transform="translate(0.00,0)"><path d="M0 0H5.1V21H3.0V1.7H0Z M0 19.2H7H7V21H0Z" fill="#000"/></g><g transform="translate(8.80,0)"><ellipse cx="6.4" cy="4.9" rx="4.5" ry="4.1" fill="none" stroke="#000" stroke-width="1.8"/><ellipse cx="6.3" cy="15.15" rx="5.5" ry="4.95" fill="none" stroke="#000" stroke-width="1.8"/></g></svg>
<svg class="ic" style="left:215.10px;top:2366.00px;width:44.8px;height:44.8px" viewBox="0 0 50 50" preserveAspectRatio="none"><use href="#ic"/></svg>
<svg style="position:absolute;left:278.00px;top:2371.80px;overflow:visible" width="22.60" height="20.40" viewBox="0 0 22.30 21" preserveAspectRatio="none"><g transform="translate(0.00,0)"><path d="M1.75 7.0L1.75 3.4Q3.5 0.8 7.2 0.8Q12.2 0.8 12.2 5.0Q12.2 7.5 9.5 10.5L1.0 20.2L11.8 20.2L12.9 17.6" fill="none" stroke="#000" stroke-width="1.8"/></g><g transform="translate(15.30,0)"><path d="M0 0H5.1V21H3.0V1.7H0Z M0 19.2H7H7V21H0Z" fill="#000"/></g></svg>
<svg class="ic" style="left:215.10px;top:2414.80px;width:44.8px;height:44.8px" viewBox="0 0 50 50" preserveAspectRatio="none"><use href="#ic"/></svg>
<svg style="position:absolute;left:276.30px;top:2426.80px;overflow:visible" width="27.50" height="20.40" viewBox="0 0 28.30 21" preserveAspectRatio="none"><g transform="translate(0.00,0)"><path d="M1.75 7.0L1.75 3.4Q3.5 0.8 7.2 0.8Q12.2 0.8 12.2 5.0Q12.2 7.5 9.5 10.5L1.0 20.2L11.8 20.2L12.9 17.6" fill="none" stroke="#000" stroke-width="1.8"/></g><g transform="translate(15.30,0)"><ellipse cx="6.5" cy="10.5" rx="5.7" ry="9.7" fill="none" stroke="#000" stroke-width="1.8"/></g></svg>
<svg class="ic" style="left:216.10px;top:2466.00px;width:44.8px;height:44.8px" viewBox="0 0 50 50" preserveAspectRatio="none"><use href="#ic"/></svg>
<svg style="position:absolute;left:277.50px;top:2477.30px;overflow:visible" width="22.20" height="20.40" viewBox="0 0 21.80 21" preserveAspectRatio="none"><g transform="translate(0.00,0)"><path d="M0 0H5.1V21H3.0V1.7H0Z M0 19.2H7H7V21H0Z" fill="#000"/></g><g transform="translate(8.80,0)"><ellipse cx="6.2" cy="15.5" rx="5.4" ry="4.7" fill="none" stroke="#000" stroke-width="1.8"/><path d="M0.9 15.5Q0.9 6.5 8.7 0.6" fill="none" stroke="#000" stroke-width="1.8"/></g></svg>
<svg class="ic" style="left:216.10px;top:2516.90px;width:44.8px;height:44.8px" viewBox="0 0 50 50" preserveAspectRatio="none"><use href="#ic"/></svg>
<svg style="position:absolute;left:277.50px;top:2525.20px;overflow:visible" width="22.20" height="20.40" viewBox="0 0 21.80 21" preserveAspectRatio="none"><g transform="translate(0.00,0)"><path d="M0 0H5.1V21H3.0V1.7H0Z M0 19.2H7H7V21H0Z" fill="#000"/></g><g transform="translate(8.80,0)"><ellipse cx="6.2" cy="15.5" rx="5.4" ry="4.7" fill="none" stroke="#000" stroke-width="1.8"/><path d="M0.9 15.5Q0.9 6.5 8.7 0.6" fill="none" stroke="#000" stroke-width="1.8"/></g></svg>
<svg class="ic" style="left:217.10px;top:2568.80px;width:44.8px;height:44.8px" viewBox="0 0 50 50" preserveAspectRatio="none"><use href="#ic"/></svg>
<svg style="position:absolute;left:275.70px;top:2579.50px;overflow:visible" width="28.10" height="19.50" viewBox="0 0 28.30 21" preserveAspectRatio="none"><g transform="translate(0.00,0)"><path d="M1.75 7.0L1.75 3.4Q3.5 0.8 7.2 0.8Q12.2 0.8 12.2 5.0Q12.2 7.5 9.5 10.5L1.0 20.2L11.8 20.2L12.9 17.6" fill="none" stroke="#000" stroke-width="1.8"/></g><g transform="translate(15.30,0)"><ellipse cx="6.5" cy="10.5" rx="5.7" ry="9.7" fill="none" stroke="#000" stroke-width="1.8"/></g></svg>
<svg class="ic" style="left:217.10px;top:2619.10px;width:44.8px;height:44.8px" viewBox="0 0 50 50" preserveAspectRatio="none"><use href="#ic"/></svg>
<svg style="position:absolute;left:274.00px;top:2628.30px;overflow:visible" width="27.50" height="19.50" viewBox="0 0 27.20 21" preserveAspectRatio="none"><g transform="translate(0.00,0)"><path d="M1.75 7.0L1.75 3.4Q3.5 0.8 7.2 0.8Q12.2 0.8 12.2 5.0Q12.2 7.5 9.5 10.5L1.0 20.2L11.8 20.2L12.9 17.6" fill="none" stroke="#000" stroke-width="1.8"/></g><g transform="translate(15.30,0)"><path d="M1.2 4.6L1.2 2.2Q3 0.8 6 0.8Q10.3 0.8 11.1 2.6L3.0 10.8Q11.1 10.3 11.1 15.3Q11.1 20.2 6.0 20.2Q2.4 20.2 0.8 18.3" fill="none" stroke="#000" stroke-width="1.8"/></g></svg>
<svg class="ic" style="left:219.10px;top:2671.00px;width:44.8px;height:44.8px" viewBox="0 0 50 50" preserveAspectRatio="none"><use href="#ic"/></svg>
<svg style="position:absolute;left:277.70px;top:2681.80px;overflow:visible" width="22.20" height="21.30" viewBox="0 0 22.70 21" preserveAspectRatio="none"><g transform="translate(0.00,0)"><path d="M0 0H5.1V21H3.0V1.7H0Z M0 19.2H7H7V21H0Z" fill="#000"/></g><g transform="translate(8.80,0)"><path d="M10.8 0.6L0.8 13.9L13.9 13.9M10.6 0.3L10.6 21M5.3 20.2L13.2 20.2" fill="none" stroke="#000" stroke-width="1.8"/></g></svg>
<svg class="ic" style="left:219.10px;top:2717.00px;width:44.8px;height:44.8px" viewBox="0 0 50 50" preserveAspectRatio="none"><use href="#ic"/></svg>
<svg style="position:absolute;left:277.50px;top:2728.20px;overflow:visible" width="22.70" height="20.70" viewBox="0 0 22.30 21" preserveAspectRatio="none"><g transform="translate(0.00,0)"><path d="M0 0H5.1V21H3.0V1.7H0Z M0 19.2H7H7V21H0Z" fill="#000"/></g><g transform="translate(8.80,0)"><path d="M1.75 7.0L1.75 3.4Q3.5 0.8 7.2 0.8Q12.2 0.8 12.2 5.0Q12.2 7.5 9.5 10.5L1.0 20.2L11.8 20.2L12.9 17.6" fill="none" stroke="#000" stroke-width="1.8"/></g></svg>
<svg style="position:absolute;left:86.10px;top:2788.40px;overflow:visible" width="23.10" height="20.20" viewBox="0 0 22.30 21" preserveAspectRatio="none"><g transform="translate(0.00,0)"><path d="M0 0H5.1V21H3.0V1.7H0Z M0 19.2H7H7V21H0Z" fill="#000"/></g><g transform="translate(8.80,0)"><path d="M1.75 7.0L1.75 3.4Q3.5 0.8 7.2 0.8Q12.2 0.8 12.2 5.0Q12.2 7.5 9.5 10.5L1.0 20.2L11.8 20.2L12.9 17.6" fill="none" stroke="#000" stroke-width="1.8"/></g></svg>
<div class="lg" style="left:116px;top:2790px;font-size:18px;line-height:18px">=</div>
<div class="lg" style="left:132px;top:2787px;font-size:26px;line-height:26px;letter-spacing:0.84px">year legalised</div>
<div class="tw" style="left:62.4px;top:2836.6px;font-size:25px;line-height:25px;letter-spacing:1.981px;transform:scaleX(1.18)">Average ranking change 1990-2018</div>
<div class="tw" style="left:63.9px;top:2861.5px;font-size:25px;line-height:25px;letter-spacing:2.164px;transform:scaleX(1.18)">There was no increase in obesity ranking in any RML state</div>
<div class="tw" style="left:649.2px;top:2834.6px;font-size:25px;line-height:25px;letter-spacing:2.415px;transform:scaleX(1.18)">- 9.00</div>
<div class="tw" style="left:820.5px;top:2834.6px;font-size:25px;line-height:25px;letter-spacing:2.093px;transform:scaleX(1.18)">+0.46</div>
<div class="tw" style="left:645.0px;top:2781.2px;font-size:17px;line-height:17px;letter-spacing:0.544px;transform:scaleX(1.18)">in 23 RML</div>
<div class="tw" style="left:662.3px;top:2799.8px;font-size:17px;line-height:17px;letter-spacing:3.186px;transform:scaleX(1.18)">states</div>
<div class="tw" style="left:791.3px;top:2781.2px;font-size:17px;line-height:17px;letter-spacing:1.205px;transform:scaleX(1.18)">in 28 non-RML</div>
<div class="tw" style="left:831.6px;top:2799.8px;font-size:17px;line-height:17px;letter-spacing:3.119px;transform:scaleX(1.18)">states</div>
</body></html>
